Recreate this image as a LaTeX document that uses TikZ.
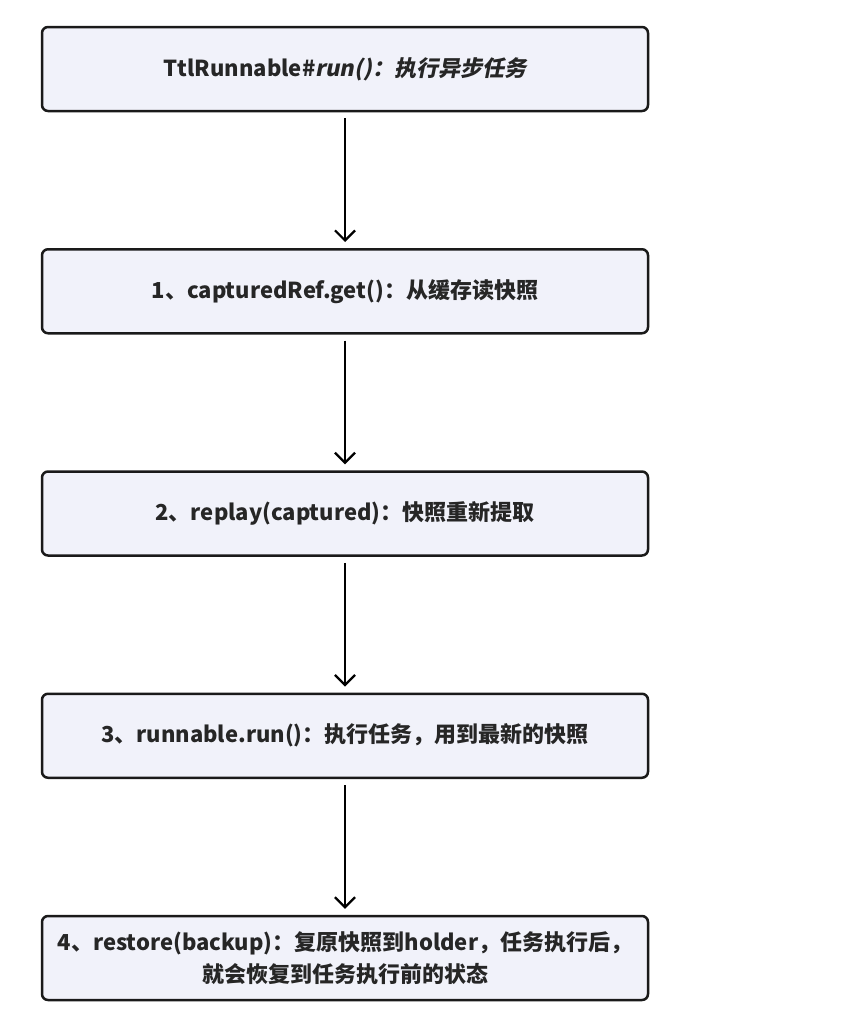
\documentclass[tikz,border=0pt]{standalone}
\usepackage{fontspec}
\setmainfont{Noto Sans CJK SC}
\newfontfamily\slantfont{Noto Sans CJK SC}[FakeSlant=0.2]
\usepackage{tikz}
\usetikzlibrary{arrows.meta,positioning}
\definecolor{boxfill}{HTML}{F1F2FA}
\definecolor{boxline}{HTML}{1A1A1A}
\definecolor{txt}{HTML}{262626}

\begin{document}
\begin{tikzpicture}[x=1pt,y=-1pt,node distance=135.75pt]
    \tikzstyle{stepbox}=[draw=boxline, fill=boxfill, line width=2.5pt, rounded corners=6pt,
      minimum width=606pt, minimum height=84pt, align=center, text=txt,
      font=\fontsize{22}{32}\selectfont\bfseries]
    \tikzstyle{flow}=[line width=2.2pt, draw=black, -{Straight Barb[length=10pt,width=20pt,line width=2.2pt]},
      shorten <=6pt, shorten >=6pt]

    \useasboundingbox (0,0) rectangle (844,1036);

    \node[stepbox] (run) at (345,69) {TtlRunnable\#{\slantfont\bfseries run()：执行异步任务}};
    \node[stepbox] (get) [below=of run] {1、capturedRef.get()：从缓存读快照};
    \node[stepbox] (replay) [below=of get] {2、replay(captured)：快照重新提取};
    \node[stepbox] (exec) [below=of replay] {3、runnable.run()：执行任务，用到最新的快照};
    \node[stepbox] (restore) [below=of exec] {4、restore(backup)：复原快照到holder，任务执行后，\\就会恢复到任务执行前的状态};

    \draw[flow] (run) -- (get);
    \draw[flow] (get) -- (replay);
    \draw[flow] (replay) -- (exec);
    \draw[flow] (exec) -- (restore);
\end{tikzpicture}
\end{document}
